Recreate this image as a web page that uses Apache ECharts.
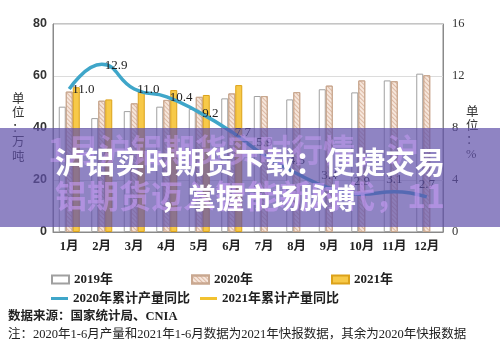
<!DOCTYPE html>
<html><head><meta charset="utf-8">
<script src="https://cdn.jsdelivr.net/npm/echarts@6/dist/echarts.min.js"></script>
<style>html,body{margin:0;padding:0;background:#fff}#c{width:500px;height:356px}</style>
</head><body><div id="c"></div>
<script>
const months = ['1月','2月','3月','4月','5月','6月','7月','8月','9月','10月','11月','12月'];
const prod2019 = [48.2, 43.8, 46.5, 48.2, 47.3, 51.4, 52.3, 51.0, 54.9, 53.7, 58.3, 60.9];
const prod2020 = [54.0, 50.5, 49.5, 50.8, 52.0, 53.3, 52.3, 53.8, 56.3, 58.3, 58.0, 60.3];
const prod2021 = [55.7, 51.0, 54.0, 54.6, 52.7, 56.5, null, null, null, null, null, null];
const yoy2020 = [11.0, 12.9, 11.0, 10.4, 9.2, 7.7, 5.9, 4.5, 3.4, 2.9, 3.1, 2.7];
const yoy2021 = [null, null, null, null, null, null, null, null, null, null, null, null];
const leftTicks = [0, 20, 40, 60, 80];
const rightTicks = [0, 4, 8, 12, 16];

const SERIF = "'Liberation Serif','Noto Sans CJK SC',serif";
const CJK = "'Noto Sans CJK SC',sans-serif";

const chart = echarts.init(document.getElementById('c'), null, {renderer:'canvas'});
chart.setOption({
  animation: false,
  grid: {left: 53, right: 57, top: 24, bottom: 124, show: true, borderColor: '#8a8a8a', borderWidth: 1},
  legend: [
    {data: [{name:'2019年', icon:'rect'},{name:'2020年', icon:'rect'},{name:'2021年', icon:'rect'}], left: 46, top: 268, itemWidth: 17, itemHeight: 8, itemGap: 78,
     textStyle: {fontFamily: SERIF, fontSize: 13, color: '#222', fontWeight: 'bold'}},
    {data: [{name:'2020年累计产量同比', icon:'rect'},{name:'2021年累计产量同比', icon:'rect'}], left: 46, top: 287, itemWidth: 17, itemHeight: 3, itemGap: 10,
     textStyle: {fontFamily: SERIF, fontSize: 13, color: '#222', fontWeight: 'bold'}}
  ],
  xAxis: {type: 'category', data: months,
    axisLine: {show: true, lineStyle: {color: '#8a8a8a'}}, axisTick: {show: false},
    axisLabel: {interval: 0, fontFamily: SERIF, fontSize: 12.5, color: '#222', fontWeight: 'bold', margin: 9}},
  yAxis: [
    {type: 'value', min: leftTicks[0], max: leftTicks[leftTicks.length-1], interval: 20,
     axisLine: {show: true, lineStyle: {color: '#8a8a8a'}}, axisTick: {show: false},
     splitLine: {lineStyle: {color: '#dcdcdc'}},
     axisLabel: {fontFamily: "'Liberation Sans',sans-serif", fontSize: 12.5, color: '#333', fontWeight: 'bold', margin: 6}},
    {type: 'value', min: rightTicks[0], max: rightTicks[rightTicks.length-1], interval: 4,
     axisLine: {show: true, lineStyle: {color: '#8a8a8a'}}, axisTick: {show: false}, splitLine: {show: false},
     axisLabel: {fontFamily: SERIF, fontSize: 12.5, color: '#333', margin: 9}}
  ],
  series: [
    {name: '2019年', type: 'bar', data: prod2019, barWidth: 7, barGap: '0%',
     itemStyle: {color: '#ffffff', borderColor: '#a0a0a0', borderWidth: 1}},
    {name: '2020年', type: 'bar', data: prod2020, barWidth: 7, barGap: '0%',
     itemStyle: {color: '#f6e6db', borderColor: '#c9a890', borderWidth: 1,
       decal: {symbol: 'rect', symbolSize: 1, dashArrayX: [1, 0], dashArrayY: [1, 2], rotation: Math.PI / 4, color: 'rgba(200,150,120,0.55)'}}},
    {name: '2021年', type: 'bar', data: prod2021, barWidth: 7, barGap: '0%',
     itemStyle: {color: '#f7c948', borderColor: '#dca21a', borderWidth: 1}},
    {name: '2020年累计产量同比', type: 'line', yAxisIndex: 1, smooth: 0.5, symbol: 'circle', symbolSize: 0.1,
     data: yoy2020.map((v, i) => ({value: v, label: i < 6 ? {position: 'right', distance: 3, offset: [0, 1]} : {position: 'top', distance: 6}})),
     lineStyle: {color: '#3fa6c9', width: 3.5}, itemStyle: {color: '#3fa6c9'},
     label: {show: true, formatter: p => p.value.toFixed(1), fontFamily: SERIF, fontSize: 13, color: '#222'}},
    {name: '2021年累计产量同比', type: 'line', yAxisIndex: 1, data: yoy2021, symbol: 'none',
     lineStyle: {color: '#f2c230', width: 3}, itemStyle: {color: '#f2c230'}}
  ],
  graphic: [
    {type: 'text', left: 12, top: 92, style: {text: '单\n位\n：\n万\n吨', fontFamily: SERIF, fontSize: 12.5, lineHeight: 14.5, fill: '#333'}},
    {type: 'text', left: 466, top: 106, style: {text: '单\n位\n：\n%', fontFamily: SERIF, fontSize: 12.5, lineHeight: 14, fill: '#333'}},
    {type: 'text', left: 8, top: 311, style: {text: '数据来源：国家统计局、CNIA', fontFamily: SERIF, fontSize: 12.5, fontWeight: 'bold', fill: '#222'}},
    {type: 'text', left: 8, top: 328, style: {text: '注：2020年1-6月产量和2021年1-6月数据为2021年快报数据，其余为2020年快报数据', fontFamily: SERIF, fontSize: 12.5, fill: '#222'}},
    {type: 'rect', z: 100, shape: {x: 0, y: 128, width: 500, height: 99}, style: {fill: 'rgba(96,80,170,0.7)'}},
    {type: 'text', z: 101, x: 48, y: 134, style: {text: '1月沪铝期货实时行情，沪', fontFamily: CJK, fontSize: 32, fontWeight: 'bold', fill: 'rgba(200,155,245,0.5)'}},
    {type: 'text', z: 101, x: 55, y: 180, style: {text: '铝期货迈入智能新时代，11', fontFamily: CJK, fontSize: 32, fontWeight: 'bold', fill: 'rgba(200,155,245,0.6)'}},
    {type: 'text', z: 102, x: 250, y: 162, style: {text: '泸铝实时期货下载：便捷交易', fontFamily: CJK, fontSize: 30, fontWeight: 'bold', fill: '#ffffff', align: 'center', verticalAlign: 'middle'}},
    {type: 'text', z: 102, x: 160, y: 198, style: {text: '，掌握市场脉搏', fontFamily: CJK, fontSize: 28, fontWeight: 'bold', fill: '#ffffff', verticalAlign: 'middle'}}
  ]
});
</script>
</body></html>
